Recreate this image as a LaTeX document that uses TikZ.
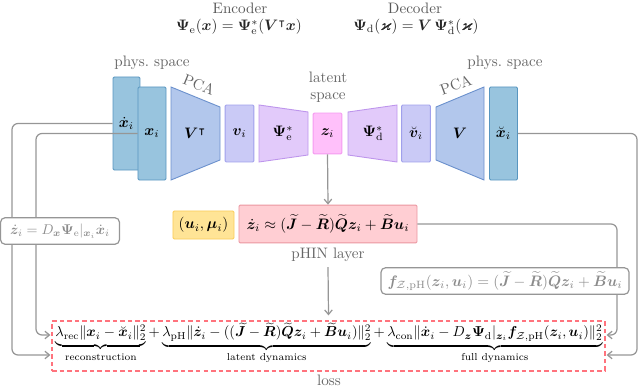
\documentclass[tikz,border=0pt]{standalone}
\usepackage{amsmath,amssymb,bm}
\usetikzlibrary{arrows.meta,calc}
\definecolor{physfill}{RGB}{152,196,222}
\definecolor{physdraw}{RGB}{88,150,192}
\definecolor{pcafill}{RGB}{178,199,236}
\definecolor{pcadraw}{RGB}{108,145,205}
\definecolor{vfill}{RGB}{202,202,246}
\definecolor{vdraw}{RGB}{160,160,236}
\definecolor{psifill}{RGB}{226,202,250}
\definecolor{psidraw}{RGB}{190,150,236}
\definecolor{zfill}{RGB}{255,192,250}
\definecolor{zdraw}{RGB}{245,155,240}
\definecolor{yfill}{RGB}{255,228,150}
\definecolor{ydraw}{RGB}{250,205,90}
\definecolor{pfill}{RGB}{255,206,211}
\definecolor{pdraw}{RGB}{235,150,160}
\definecolor{conncol}{RGB}{150,150,150}
\definecolor{lossred}{RGB}{255,115,125}
\begin{document}
\begin{tikzpicture}[x=0.66pt,y=-0.66pt,
  blk/.style={draw, line width=0.6pt, rounded corners=0.8pt, inner sep=0pt},
  physbox/.style={blk, fill=physfill, draw=physdraw, minimum width=18.5pt, minimum height=61.4pt},
  vbox/.style={blk, fill=vfill, draw=vdraw, minimum width=19pt, minimum height=37.6pt},
  zbox/.style={blk, fill=zfill, draw=zdraw, minimum width=19pt, minimum height=27pt},
  pcatrap/.style={line width=0.6pt, fill=pcafill, draw=pcadraw},
  psitrap/.style={line width=0.6pt, fill=psifill, draw=psidraw},
  lbl/.style={text=black!60},
  conn/.style={draw=conncol, line width=0.8pt, rounded corners=4pt},
  arr/.style={conn, -{Straight Barb[length=3pt,width=5pt]}},
  greybox/.style={draw=conncol, fill=white, line width=0.8pt, rounded corners=3pt, text=black!45, inner sep=0pt, minimum height=17.5pt}
]
\useasboundingbox (0,0) rectangle (640,388);

% titles
\node[text=black!65] (enc) at (240,8) {Encoder};
\node[text=black!85] (encf) at (239,27) {$\bm\Psi_{\mathrm{e}}(\bm x)=\bm\Psi^*_{\mathrm{e}}(\bm V^{\intercal}\bm x)$};
\node[text=black!65] (dec) at (415,8) {Decoder};
\node[text=black!85] (decf) at (416,27) {$\bm\Psi_{\mathrm{d}}(\bm\varkappa)=\bm V\,\bm\Psi^*_{\mathrm{d}}(\bm\varkappa)$};

\node[lbl] (psl) at (152,63) {phys.\ space};
\node[lbl] (psr) at (505,63) {phys.\ space};
\node[lbl, align=center, inner sep=0pt] (lat) at (328,87) {latent\\[-1pt]space};

% encoder
\node[physbox, minimum width=17.8pt] (dx) at (126.5,123.5) {$\dot{\bm x}_i$};
\node[physbox] (x) at (152,133.5) {$\bm x_i$};
\draw[pcatrap] (171,87) -- (220,107) -- (220,160) -- (171,180) -- cycle;
\node (VT) at (195,133.5) {$\bm V^{\intercal}$};
\node[lbl, rotate=-22] (pcal) at (199,85) {PCA};
\node[vbox] (v) at (239.5,133.5) {$\bm v_i$};
\draw[psitrap] (259,105) -- (308,112) -- (308,155) -- (259,162) -- cycle;
\node (PE) at (283,133.5) {$\bm\Psi^*_{\mathrm{e}}$};
\node[zbox] (z) at (327.5,133.5) {$\bm z_i$};
% decoder
\draw[psitrap] (348,112) -- (397,105) -- (397,162) -- (348,155) -- cycle;
\node (PD) at (373,133.5) {$\bm\Psi^*_{\mathrm{d}}$};
\node[vbox] (vb) at (416,133.5) {$\breve{\bm v}_i$};
\draw[pcatrap] (436,107) -- (484,87) -- (484,180) -- (436,160) -- cycle;
\node (V) at (460,133.5) {$\bm V$};
\node[lbl, rotate=20] (pcar) at (456,85) {PCA};
\node[physbox] (xb) at (503.5,133.5) {$\breve{\bm x}_i$};

% pHIN
\node[blk, fill=yfill, draw=ydraw, minimum width=40.3pt, minimum height=18.5pt] (u) at (203.5,225) {$(\bm u_i,\bm\mu_i)$};
\node[blk, fill=pfill, draw=pdraw, minimum width=117.5pt, minimum height=25pt] (ph) at (328,224)
  {$\dot{\bm z}_i\approx(\widetilde{\bm J}-\widetilde{\bm R})\widetilde{\bm Q}\bm z_i+\widetilde{\bm B}\bm u_i$};
\node[lbl] (phl) at (328,255) {pHIN layer};

% loss
\node[draw=lossred, line width=0.8pt, dash pattern=on 3pt off 2pt, minimum width=365pt, minimum height=33pt, inner sep=0pt] (loss) at (328.5,346) {};
\node[anchor=base, scale=0.95, inner sep=0pt] (lf) at (329,337) {$\underbrace{\lambda_{\mathrm{rec}}\|\bm x_i-\breve{\bm x}_i\|_2^2}_{\text{reconstruction}}
 +\underbrace{\lambda_{\mathrm{pH}}\|\dot{\bm z}_i-((\widetilde{\bm J}-\widetilde{\bm R})\widetilde{\bm Q}\bm z_i+\widetilde{\bm B}\bm u_i)\|_2^2}_{\text{latent dynamics}}
 +\underbrace{\lambda_{\mathrm{con}}\|\dot{\bm x}_i-D_{\bm z}\bm\Psi_{\mathrm{d}}|_{\bm z_i}\bm f_{\mathcal Z,\mathrm{pH}}(\bm z_i,\bm u_i)\|_2^2}_{\text{full dynamics}}$};
\node[lbl] (ll) at (329,380) {loss};

% connectors
\draw[arr] (dx.west) -- (12,123.5) -- (12,355) -- ($(loss.west)+(-1,9)$);
\draw[arr] (x.west) -- (36,133.5) -- (36,335) -- ($(loss.west)+(-1,-11)$);
\draw[arr] (xb.east) -- (637,133.5) -- (637,355) -- ($(loss.east)+(1,9)$);
\draw[arr] (ph.east) -- (617,224) -- (617,335) -- ($(loss.east)+(1,-11)$);
\draw[arr] (z.south) -- (ph.north);
\draw[arr] (phl.south) -- ($(loss.north)+(0,-5)$);

% grey formula boxes
\node[greybox, minimum width=78.5pt] (zd) at (60,231) {\scalebox{0.93}{$\dot{\bm z}_i=D_{\bm x}\bm\Psi_{\mathrm{e}}|_{\bm x_i}\dot{\bm x}_i$}};
\node[greybox, minimum width=163.7pt] (fz) at (505,281) {$\bm f_{\mathcal Z,\mathrm{pH}}(\bm z_i,\bm u_i)=(\widetilde{\bm J}-\widetilde{\bm R})\widetilde{\bm Q}\bm z_i+\widetilde{\bm B}\bm u_i$};
\end{tikzpicture}
\end{document}
